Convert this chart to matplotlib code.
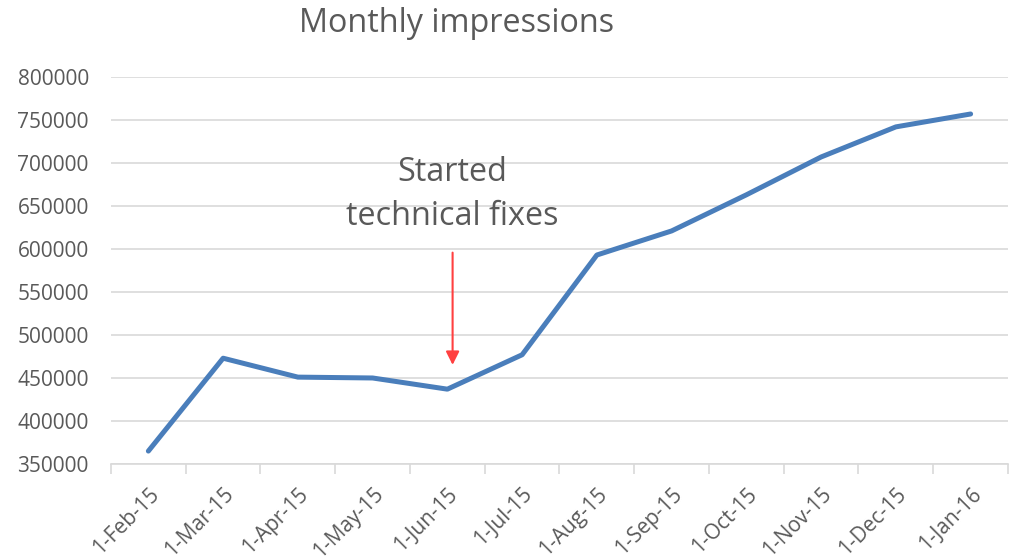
import matplotlib.pyplot as plt

months = ['1-Feb-15', '1-Mar-15', '1-Apr-15', '1-May-15', '1-Jun-15', '1-Jul-15',
          '1-Aug-15', '1-Sep-15', '1-Oct-15', '1-Nov-15', '1-Dec-15', '1-Jan-16']
impressions = [365000, 473000, 451000, 450000, 437000, 477000,
               593000, 621000, 663000, 707000, 742000, 757000]
yticks = list(range(350000, 800001, 50000))

plt.rcParams['font.family'] = ['Open Sans', 'DejaVu Sans']
grey = '#595959'

fig = plt.figure(figsize=(10.09, 5.58), dpi=100)
ax = fig.add_axes([0.110, 0.1685, 0.889, 0.6935])

x = list(range(len(months)))
ax.plot(x, impressions, color='#4a7ebb', linewidth=3.6, solid_capstyle='round',
        solid_joinstyle='round', zorder=3)

ax.set_xlim(-0.5, len(months) - 0.5)
ax.set_ylim(350000, 800000)
ax.set_yticks(yticks)
ax.set_yticklabels([str(v) for v in yticks], fontsize=15, color=grey)
ax.yaxis.grid(True, color='#d9d9d9', linewidth=1.2)
ax.tick_params(axis='y', length=0, pad=16)

ax.set_xticks(x)
ax.set_xticklabels(months, rotation=45, ha='right', rotation_mode='anchor',
                   fontsize=15, color=grey)
ax.tick_params(axis='x', length=0, pad=14)
ax.set_xticks([i - 0.5 for i in range(len(months) + 1)], minor=True)
ax.tick_params(axis='x', which='minor', length=7, width=1.2, color='#d9d9d9')

for side in ['left', 'right', 'top']:
    ax.spines[side].set_visible(False)
ax.spines['bottom'].set_color('#d9d9d9')
ax.spines['bottom'].set_linewidth(1.2)

ax.annotate('', xy=(4.07, 462000), xytext=(4.07, 599000),
            arrowprops=dict(arrowstyle='-|>', color='#ff4040', lw=1.5,
                            mutation_scale=20))
ax.text(4.07, 663000, 'Started\ntechnical fixes', ha='center', va='center',
        fontsize=23.3, color=grey, linespacing=1.45)

fig.text(457 / 1009, 1 - 23 / 558, 'Monthly impressions', ha='center', va='center',
         fontsize=23.3, color=grey)

fig.savefig('out.png', dpi=100)
